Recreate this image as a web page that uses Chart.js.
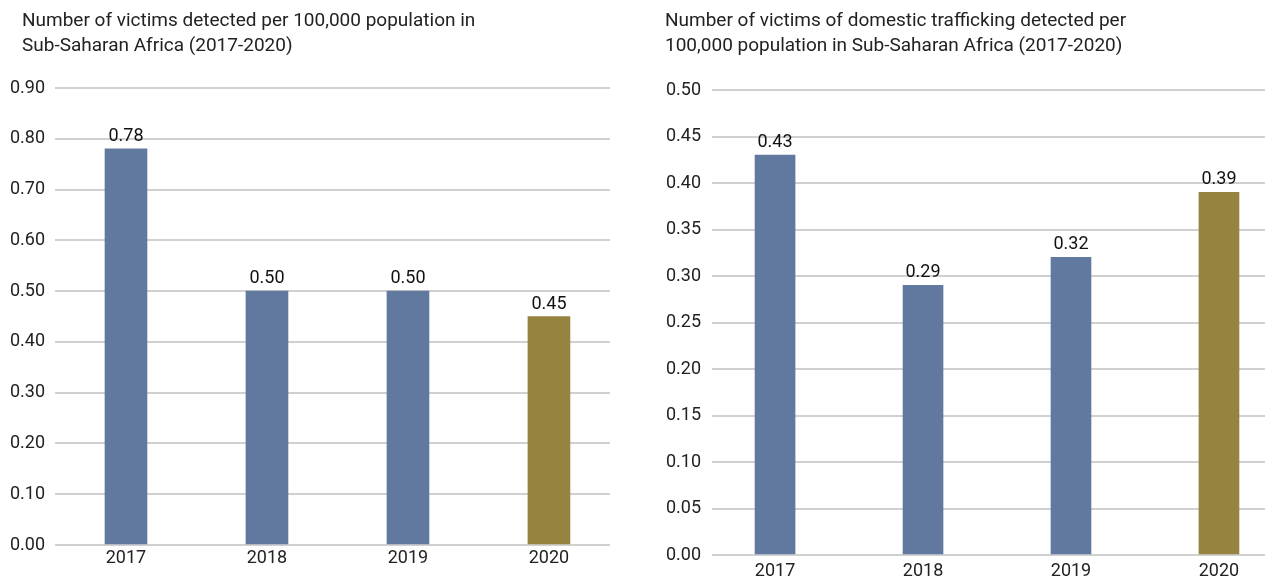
<!DOCTYPE html>
<html><head><meta charset="utf-8">
<script src="https://cdn.jsdelivr.net/npm/chart.js@4.4.1/dist/chart.umd.min.js"></script>
<style>
body{margin:0;background:#fff;width:1268px;height:581px;overflow:hidden;position:relative;font-family:Roboto,sans-serif;}
canvas{position:absolute;top:0;}
.title{position:absolute;font-size:19px;line-height:25px;color:#222;white-space:nowrap;}
</style></head><body>
<canvas id="c1" width="630" height="581" style="left:0px"></canvas>
<canvas id="c2" width="628" height="581" style="left:640px"></canvas>
<div class="title" id="t1" style="left:22px;top:7px;"></div>
<div class="title" id="t2" style="left:665px;top:7px;"></div>
<script>
const categories = ['2017', '2018', '2019', '2020'];
const victimsAll = [0.78, 0.50, 0.50, 0.45];
const victimsDomestic = [0.43, 0.29, 0.32, 0.39];
const yTicksLeft = [0.00, 0.10, 0.20, 0.30, 0.40, 0.50, 0.60, 0.70, 0.80, 0.90];
const yTicksRight = [0.00, 0.05, 0.10, 0.15, 0.20, 0.25, 0.30, 0.35, 0.40, 0.45, 0.50];
const titleLeft = ['Number of victims detected per 100,000 population in', 'Sub-Saharan Africa (2017-2020)'];
const titleRight = ['Number of victims of domestic trafficking detected per', '100,000 population in Sub-Saharan Africa (2017-2020)'];

document.getElementById('t1').innerHTML = titleLeft.join('<br>');
document.getElementById('t2').innerHTML = titleRight.join('<br>');

const BLUE = '#61799F';
const GOLD = '#978340';
const FONT = 'Roboto';

const valueLabels = {
  id: 'valueLabels',
  afterDatasetsDraw(chart) {
    const ctx = chart.ctx;
    const meta = chart.getDatasetMeta(0);
    const ds = chart.data.datasets[0];
    ctx.save();
    ctx.font = '18px ' + FONT;
    ctx.fillStyle = '#111';
    ctx.textAlign = 'center';
    ctx.textBaseline = 'alphabetic';
    meta.data.forEach((bar, i) => ctx.fillText(ds.data[i].toFixed(2), bar.x, bar.y - 8));
    ctx.restore();
  }
};

function makeChart(id, values, yTicks, cfg) {
  const colors = categories.map((c, i) => i === categories.length - 1 ? GOLD : BLUE);
  return new Chart(document.getElementById(id), {
    type: 'bar',
    data: {
      labels: categories,
      datasets: [{ data: values, backgroundColor: colors, borderWidth: 0, barThickness: cfg.barW }]
    },
    plugins: [valueLabels],
    options: {
      responsive: false,
      animation: false,
      devicePixelRatio: 1,
      layout: { padding: { top: cfg.top, right: cfg.right, bottom: 0, left: 0 } },
      plugins: { legend: { display: false }, tooltip: { enabled: false }, title: { display: false } },
      scales: {
        x: {
          type: 'linear',
          bounds: 'data',
          offset: false,
          min: cfg.xmin, max: cfg.xmax,
          grid: { display: false, drawTicks: false, offset: false },
          border: { display: false },
          afterBuildTicks: s => { s.ticks = categories.map(c => ({ value: +c })); },
          afterFit: s => { s.height = cfg.xh; },
          ticks: { padding: cfg.xpad, color: '#222', font: { family: FONT, size: 18 }, callback: v => String(v), maxRotation: 0, autoSkip: false }
        },
        y: {
          min: yTicks[0], max: yTicks[yTicks.length - 1],
          afterBuildTicks: s => { s.ticks = yTicks.map(v => ({ value: v })); },
          afterFit: s => { s.width = cfg.yw; },
          grid: { color: '#D0D0D0', lineWidth: 2, drawTicks: false },
          border: { display: false },
          ticks: { padding: cfg.ypad, color: '#222', font: { family: FONT, size: 18 }, callback: v => Number(v).toFixed(2) }
        }
      }
    }
  });
}

makeChart('c1', victimsAll, yTicksLeft, { top: 88, right: 20, yw: 55, ypad: 10, xh: 36, xpad: 3, xmin: 2016.4965, xmax: 2020.433, barW: 42 });
makeChart('c2', victimsDomestic, yTicksRight, { top: 90, right: 3, yw: 72, ypad: 11, xh: 26, xpad: 6, xmin: 2016.574, xmax: 2020.311, barW: 40 });
</script>
</body></html>
